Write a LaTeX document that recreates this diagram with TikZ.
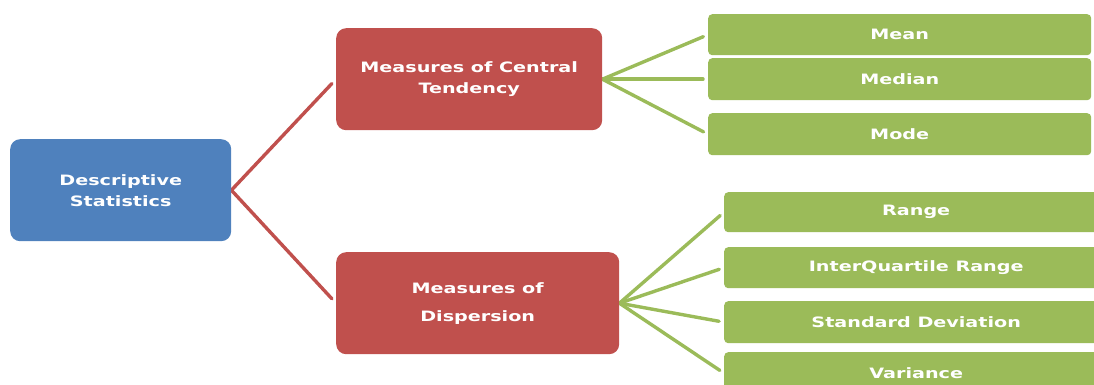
\documentclass[tikz,border=0pt]{standalone}
\usepackage{fontspec}
\setmainfont{DejaVu Sans}
\newfontfamily\boxfont{DejaVu Sans}[FakeStretch=1.34]
\definecolor{dsblue}{HTML}{4F81BD}
\definecolor{dsred}{HTML}{C0504D}
\definecolor{dsgreen}{HTML}{9BBB59}
\pgfdeclarelayer{links}
\pgfsetlayers{links,main}
\begin{document}
\begin{tikzpicture}[x=1pt,y=-1pt,
  base/.style={anchor=north west, inner sep=0pt, text=white,
    font=\boxfont\bfseries\fontsize{14.3}{21}\selectfont, align=center},
  bluebox/.style={base, fill=dsblue, rounded corners=10pt},
  redbox/.style={base, fill=dsred, rounded corners=10pt},
  greenbox/.style={base, fill=dsgreen, rounded corners=4pt},
  redlink/.style={draw=dsred, line width=3.4pt, line cap=round, shorten >=6pt},
  greenlink/.style={draw=dsgreen, line width=3.4pt, line cap=round, shorten >=5pt}]
\useasboundingbox (0,0) rectangle (1094,385);
\clip (0,0) rectangle (1094,385);

% root
\node[bluebox, minimum width=221pt, minimum height=102pt] (ds) at (10,139) {Descriptive\\Statistics};

% second level
\node[redbox, minimum width=266pt, minimum height=102pt] (ct) at (336,28) {Measures of Central\\Tendency};
\node[redbox, minimum width=283pt, minimum height=102pt] (disp) at (336,252) {Measures of\\[7pt]Dispersion};

% central tendency leaves
\node[greenbox, minimum width=383pt, minimum height=41pt] (mean) at (708,14) {Mean};
\node[greenbox, minimum width=383pt, minimum height=42pt] (median) at (708,58) {Median};
\node[greenbox, minimum width=383pt, minimum height=42pt] (mode) at (708,113) {Mode};

% dispersion leaves
\node[greenbox, minimum width=384pt, minimum height=40pt] (range) at (724,192) {Range};
\node[greenbox, minimum width=384pt, minimum height=41pt] (iqr) at (724,247) {InterQuartile Range};
\node[greenbox, minimum width=384pt, minimum height=42pt] (sd) at (724,301) {Standard Deviation};
\node[greenbox, minimum width=384pt, minimum height=42pt] (var) at (724,352) {Variance};

\begin{pgfonlayer}{links}
  \draw[redlink] (ds.east) -- (ct.west);
  \draw[redlink] (ds.east) -- (disp.west);
  \foreach \leaf in {mean,median,mode}
    \draw[greenlink] (ct.east) -- (\leaf.west);
  \foreach \leaf in {range,iqr,sd,var}
    \draw[greenlink] (disp.east) -- (\leaf.west);
\end{pgfonlayer}
\end{tikzpicture}
\end{document}
